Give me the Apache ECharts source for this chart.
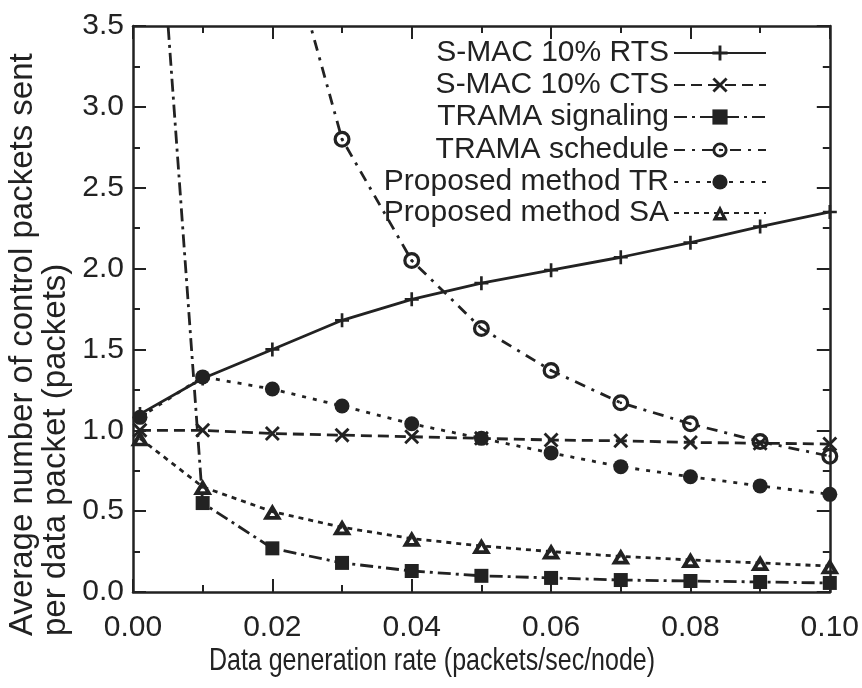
<!DOCTYPE html>
<html><head><meta charset="utf-8">
<script src="https://cdn.jsdelivr.net/npm/echarts@6/dist/echarts.min.js"></script>
<style>html,body{margin:0;padding:0;background:#fff}#c{width:862px;height:688px}</style>
</head><body><div id="c"></div>
<script>
// ---- data ----
const xValues = [0.001, 0.01, 0.02, 0.03, 0.04, 0.05, 0.06, 0.07, 0.08, 0.09, 0.10];
const smacRts = [1.10, 1.32, 1.50, 1.68, 1.81, 1.91, 1.99, 2.07, 2.16, 2.26, 2.35];
const smacCts = [1.00, 1.00, 0.98, 0.97, 0.96, 0.95, 0.94, 0.935, 0.925, 0.92, 0.915];
const tramaSignaling = [5.9, 0.55, 0.27, 0.18, 0.13, 0.10, 0.087, 0.074, 0.068, 0.062, 0.056];
const tramaSchedule = [83, 8.3, 4.35, 2.80, 2.05, 1.63, 1.37, 1.17, 1.04, 0.93, 0.84];
const proposedTR = [1.08, 1.33, 1.255, 1.15, 1.04, 0.95, 0.86, 0.775, 0.713, 0.656, 0.604];
const proposedSA = [0.95, 0.65, 0.497, 0.40, 0.33, 0.285, 0.25, 0.22, 0.198, 0.18, 0.16];
const seriesNames = ['S-MAC 10% RTS', 'S-MAC 10% CTS', 'TRAMA signaling', 'TRAMA schedule', 'Proposed method TR', 'Proposed method SA'];
const xTitle = 'Data generation rate (packets/sec/node)';
const yTitle1 = 'Average number of control packets sent';
const yTitle2 = 'per data packet (packets)';

const FONT = '"Liberation Sans", Arial, sans-serif';
const INK = '#222';

const PLUS = 'path://M8.1,0H11.9V8.1H20V11.9H11.9V20H8.1V11.9H0V8.1H8.1Z';
const CROSS = 'path://M0,2.7L2.7,0L10,7.3L17.3,0L20,2.7L12.7,10L20,17.3L17.3,20L10,12.7L2.7,20L0,17.3L7.3,10Z';
const RING = 'path://M10,0A10,10 0 1,1 10,20A10,10 0 1,1 10,0Z M10,3.8A6.2,6.2 0 1,0 10,16.2A6.2,6.2 0 1,0 10,3.8Z M10,8.4A1.6,1.6 0 1,1 10,11.6A1.6,1.6 0 1,1 10,8.4Z';
const TRI = 'path://M10,0L20,18L0,18Z M10,8.6L7.1,13.8L12.9,13.8Z';

function mk(name, data, symbol, size, dash) {
  return {
    name: name, type: 'line',
    data: xValues.map((x, i) => [x, data[i]]),
    symbol: symbol, symbolSize: size,
    showAllSymbol: true,
    clip: true,
    lineStyle: { color: INK, width: 2.8, type: dash },
    itemStyle: { color: INK },
    emphasis: { disabled: true },
    z: 3
  };
}

const series = [
  mk(seriesNames[0], smacRts, PLUS, 14, 'solid'),
  mk(seriesNames[1], smacCts, CROSS, 15, [11, 6]),
  mk(seriesNames[2], tramaSignaling, 'rect', 14, [13, 5, 3, 5]),
  mk(seriesNames[3], tramaSchedule, RING, 17, [11, 7, 3, 7]),
  mk(seriesNames[4], proposedTR, 'circle', 15, [4, 7]),
  mk(seriesNames[5], proposedSA, TRI, [19, 16], [5, 5])
];

const rowCenters = [53, 85, 117, 150, 182, 213];
const legends = seriesNames.map((n, i) => ({
  data: [n],
  orient: 'vertical',
  align: 'right',
  right: 95,
  top: rowCenters[i] - 15,
  padding: 0,
  itemWidth: 92,
  itemHeight: 19,
  selectedMode: false,
  textStyle: { fontSize: 30, color: INK, fontFamily: FONT }
}));

function xAx(pos, showLabel) {
  return {
    type: 'value', position: pos, min: 0, max: 0.1, interval: 0.02,
    axisLine: { show: true, onZero: false, lineStyle: { color: INK, width: 2.5 } },
    axisTick: { show: true, inside: true, length: 13, lineStyle: { color: INK, width: 2 } },
    minorTick: { show: true, splitNumber: 2, length: 7, lineStyle: { color: INK, width: 2 } },
    axisLabel: { show: showLabel, formatter: v => v.toFixed(2), fontSize: 30, color: INK, fontFamily: FONT, margin: 21 },
    splitLine: { show: false }, minorSplitLine: { show: false }
  };
}
function yAx(pos, showLabel) {
  return {
    type: 'value', position: pos, min: 0, max: 3.5, interval: 0.5,
    axisLine: { show: true, onZero: false, lineStyle: { color: INK, width: 2.5 } },
    axisTick: { show: true, inside: true, length: 13, lineStyle: { color: INK, width: 2 } },
    minorTick: { show: true, splitNumber: 2, length: 7, lineStyle: { color: INK, width: 2 } },
    axisLabel: { show: showLabel, formatter: v => v.toFixed(1), fontSize: 30, color: INK, fontFamily: FONT, margin: 9 },
    splitLine: { show: false }, minorSplitLine: { show: false }
  };
}

const chart = echarts.init(document.getElementById('c'), null, { renderer: 'canvas' });
chart.setOption({
  backgroundColor: '#fff',
  animation: false,
  grid: { left: 133, right: 32, top: 26, bottom: 96, containLabel: false },
  xAxis: [xAx('bottom', true), xAx('top', false)],
  yAxis: [yAx('left', true), yAx('right', false)],
  legend: legends,
  series: series,
  graphic: [
    { type: 'text', x: 432, y: 662, scaleY: 1.22, silent: true,
      style: { text: xTitle, font: '25px ' + FONT, fill: INK, align: 'center', textAlign: 'center', verticalAlign: 'middle', textVerticalAlign: 'middle' } },
    { type: 'text', x: 23, y: 636, rotation: Math.PI / 2, silent: true,
      style: { text: yTitle1, font: '33px ' + FONT, fill: INK, align: 'left', textAlign: 'left', verticalAlign: 'middle', textVerticalAlign: 'middle' } },
    { type: 'text', x: 56, y: 636, rotation: Math.PI / 2, silent: true,
      style: { text: yTitle2, font: '33px ' + FONT, fill: INK, align: 'left', textAlign: 'left', verticalAlign: 'middle', textVerticalAlign: 'middle' } }
  ]
});
</script></body></html>
